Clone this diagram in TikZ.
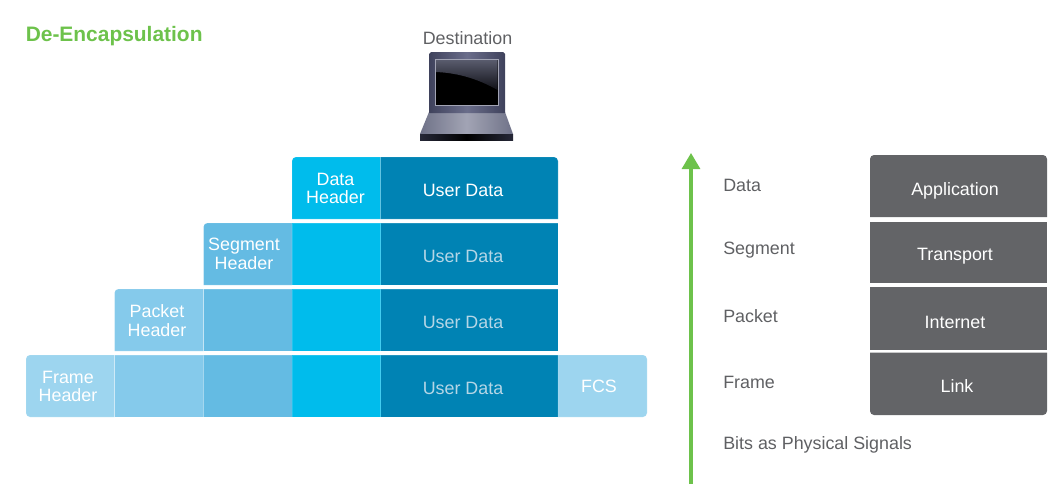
\documentclass[tikz,border=0pt]{standalone}
\usepackage{fontspec}
\setmainfont{Liberation Sans}
\usetikzlibrary{arrows.meta}
\definecolor{cFrame}{HTML}{9DD5EF}
\definecolor{cPacket}{HTML}{85CAEB}
\definecolor{cSegment}{HTML}{64BBE3}
\definecolor{cData}{HTML}{00BCEC}
\definecolor{cUser}{HTML}{0083B4}
\definecolor{cLayer}{HTML}{636467}
\definecolor{cGreen}{HTML}{6DC24B}
\definecolor{cText}{HTML}{5F6063}
\definecolor{cDim}{HTML}{B5D6E6}
\definecolor{cLapA}{HTML}{3F425C}
\definecolor{cLapB}{HTML}{6A6D8A}
\definecolor{cLapC}{HTML}{A2A4B4}
\definecolor{cLapD}{HTML}{6F7288}
\tikzset{
  lbl/.style={font=\fontsize{13.4pt}{13.6pt}\selectfont,align=center,inner sep=0pt},
  onblue/.style={lbl,text=white},
  dimlbl/.style={lbl,text=cDim},
  sidelbl/.style={lbl,text=cText,anchor=west},
  celledge/.style={draw=white,draw opacity=.14,line width=.5pt},
}
\newcommand{\sqcell}[5]{\path[fill=#5,celledge] (#1,#2) rectangle (#3,#4);}
\begin{document}
\begin{tikzpicture}[x=.75pt,y=-.75pt]
\useasboundingbox (0,0) rectangle (1062,490);
% title
\node[anchor=west,inner sep=0pt,font=\fontsize{15.7pt}{16pt}\selectfont\bfseries,text=cGreen] (title) at (25.5,36) {De-Encapsulation};
\node[lbl,text=cText] (dest) at (467.5,38) {Destination};
% laptop
\path[left color=cLapD,right color=cLapD,middle color=cLapC] (429,112) -- (505,112) -- (513,134) -- (420,134) -- cycle;
\path[left color=cLapA,right color=cLapA,middle color=cLapB] (429,113) -- (429,54) -- (431,52) -- (503,52) -- (505,54) -- (505,113) -- cycle;
\path[left color=cLapA!60!black,right color=cLapA!60!black,middle color=black] (420,134) rectangle (513,140);
\path[top color=black,bottom color=black,draw=cLapC,line width=.6pt] (435.5,59.5) rectangle (498,105.5);
\path[top color=cLapD!80!black,bottom color=cLapA!25!black] (436,60) -- (497.5,60) -- (497.5,90) .. controls (480,80) and (460,73) .. (436,72) -- cycle;
% row 1
\path[fill=cData,celledge] (380.5,219) -- (292,219) [rounded corners=3pt] -- (292,157) [sharp corners] -- (380.5,157) -- cycle;
\path[fill=cUser,celledge] (380.5,219) -- (380.5,157) [rounded corners=3pt] -- (558,157) [sharp corners] -- (558,219) -- cycle;
% row 2
\path[fill=cSegment,celledge] (292,285) -- (203.5,285) [rounded corners=3pt] -- (203.5,223) [sharp corners] -- (292,223) -- cycle;
\sqcell{292}{223}{380.5}{285}{cData}
\sqcell{380.5}{223}{558}{285}{cUser}
% row 3
\path[fill=cPacket,celledge] (203.5,351) -- (114.5,351) [rounded corners=3pt] -- (114.5,289) [sharp corners] -- (203.5,289) -- cycle;
\sqcell{203.5}{289}{292}{351}{cSegment}
\sqcell{292}{289}{380.5}{351}{cData}
\sqcell{380.5}{289}{558}{351}{cUser}
% row 4
\path[fill=cFrame,celledge] (114.5,355) [rounded corners=3pt] -- (26,355) -- (26,417) [sharp corners] -- (114.5,417) -- cycle;
\sqcell{114.5}{355}{203.5}{417}{cPacket}
\sqcell{203.5}{355}{292}{417}{cSegment}
\sqcell{292}{355}{380.5}{417}{cData}
\sqcell{380.5}{355}{558}{417}{cUser}
\path[fill=cFrame,celledge] (558,355) [rounded corners=3pt] -- (647,355) -- (647,417) [sharp corners] -- (558,417) -- cycle;
% stack labels
\node[onblue] (dh) at (335.5,188.5) {Data\\[.5pt]Header};
\node[onblue] (ud1) at (463,190.5) {User Data};
\node[onblue] (sh) at (244,253.5) {Segment\\[.5pt]Header};
\node[dimlbl] (ud2) at (463,256) {User Data};
\node[onblue] (ph) at (157,320.5) {Packet\\[.5pt]Header};
\node[dimlbl] (ud3) at (463,322) {User Data};
\node[onblue] (fh) at (68,386.5) {Frame\\[.5pt]Header};
\node[dimlbl] (ud4) at (463,388) {User Data};
\node[onblue] (fcs) at (599,386) {FCS};
% arrow
\coordinate (arrowstart) at (691,484);
\coordinate (arrowtip) at (691,153);
\draw[cGreen,line width=2.3pt,-{Triangle[length=12pt,width=13.5pt]}] (arrowstart) -- (arrowtip);
% side labels
\node[sidelbl] (s1) at (723,185) {Data};
\node[sidelbl] (s2) at (723,250.5) {Segment};
\node[sidelbl] (s3) at (723,316) {Packet};
\node[sidelbl] (s4) at (723,382) {Frame};
\node[sidelbl] (s5) at (723,444.5) {Bits as Physical Signals};
% layers
\path[fill=cLayer] (870,217) [rounded corners=3pt] -- (870,155) -- (1047,155) [sharp corners] -- (1047,217) -- cycle;
\path[fill=cLayer] (870,221.5) rectangle (1047,283);
\path[fill=cLayer] (870,287) rectangle (1047,350);
\path[fill=cLayer] (870,352.5) -- (1047,352.5) [rounded corners=3pt] -- (1047,415) -- (870,415) [sharp corners] -- cycle;
\node[onblue] (l1) at (955,190.5) {Application};
\node[onblue] (l2) at (955,256.5) {Transport};
\node[onblue] (l3) at (955,322) {Internet};
\node[onblue] (l4) at (957,386) {Link};
\end{tikzpicture}
\end{document}
